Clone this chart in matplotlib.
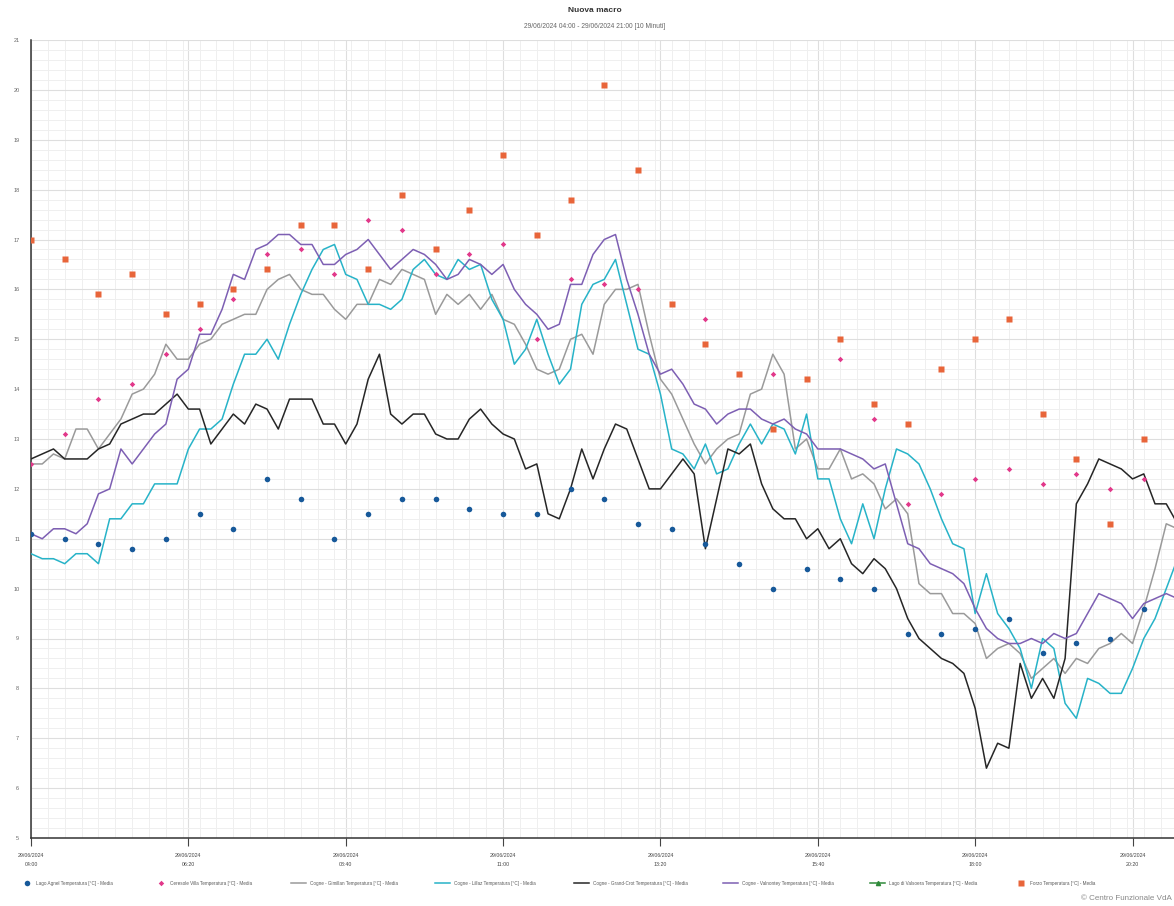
import matplotlib
matplotlib.use('Agg')
import matplotlib.pyplot as plt
import matplotlib.dates as mdates
from matplotlib.lines import Line2D
import numpy as np
import pandas as pd

plt.rcParams['font.family'] = ['Liberation Sans', 'DejaVu Sans']

# ---- 10-minute stations ----
t10 = pd.date_range('2024-06-29 04:00', '2024-06-29 21:00', freq='10min')
grimillan = [12.5,12.5,12.7,12.6,13.2,13.2,12.8,13.1,13.4,13.9,
             14.0,14.3,14.9,14.6,14.6,14.9,15.0,15.3,15.4,15.5,
             15.5,16.0,16.2,16.3,16.0,15.9,15.9,15.6,15.4,15.7,
             15.7,16.2,16.1,16.4,16.3,16.2,15.5,15.9,15.7,15.9,
             15.6,15.9,15.4,15.3,14.9,14.4,14.3,14.4,15.0,15.1,
             14.7,15.7,16.0,16.0,16.1,15.1,14.2,13.9,13.4,12.9,
             12.5,12.8,13.0,13.1,13.9,14.0,14.7,14.3,12.8,13.0,
             12.4,12.4,12.8,12.2,12.3,12.1,11.6,11.8,11.5,10.1,
             9.9,9.9,9.5,9.5,9.3,8.6,8.8,8.9,8.7,8.2,
             8.4,8.6,8.3,8.6,8.5,8.8,8.9,9.1,8.9,9.6,
             10.4,11.3,11.2]
lillaz = [10.7,10.6,10.6,10.5,10.7,10.7,10.5,11.4,11.4,11.7,
          11.7,12.1,12.1,12.1,12.8,13.2,13.2,13.4,14.1,14.7,
          14.7,15.0,14.6,15.3,15.9,16.4,16.8,16.9,16.3,16.2,
          15.7,15.7,15.6,15.8,16.4,16.6,16.3,16.2,16.6,16.4,
          16.5,15.8,15.4,14.5,14.8,15.4,14.7,14.1,14.4,15.7,
          16.1,16.2,16.6,15.7,14.8,14.7,13.9,12.8,12.7,12.4,
          12.9,12.3,12.4,12.9,13.3,12.9,13.3,13.2,12.7,13.5,
          12.2,12.2,11.4,10.9,11.7,11.0,12.0,12.8,12.7,12.5,
          12.0,11.4,10.9,10.8,9.5,10.3,9.5,9.2,8.8,8.0,
          9.0,8.8,7.7,7.4,8.2,8.1,7.9,7.9,8.4,9.0,
          9.4,10.0,10.6]
grand_crot = [12.6,12.7,12.8,12.6,12.6,12.6,12.8,12.9,13.3,13.4,
              13.5,13.5,13.7,13.9,13.6,13.6,12.9,13.2,13.5,13.3,
              13.7,13.6,13.2,13.8,13.8,13.8,13.3,13.3,12.9,13.3,
              14.2,14.7,13.5,13.3,13.5,13.5,13.1,13.0,13.0,13.4,
              13.6,13.3,13.1,13.0,12.4,12.5,11.5,11.4,12.0,12.8,
              12.2,12.8,13.3,13.2,12.6,12.0,12.0,12.3,12.6,12.3,
              10.8,11.8,12.8,12.7,12.9,12.1,11.6,11.4,11.4,11.0,
              11.2,10.8,11.0,10.5,10.3,10.6,10.4,10.0,9.4,9.0,
              8.8,8.6,8.5,8.3,7.6,6.4,6.9,6.8,8.5,7.8,
              8.2,7.8,8.6,11.7,12.1,12.6,12.5,12.4,12.2,12.3,
              11.7,11.7,11.3]
valnontey = [11.1,11.0,11.2,11.2,11.1,11.3,11.9,12.0,12.8,12.5,
             12.8,13.1,13.3,14.2,14.4,15.1,15.1,15.6,16.3,16.2,
             16.8,16.9,17.1,17.1,16.9,16.9,16.5,16.5,16.7,16.8,
             17.0,16.7,16.4,16.6,16.8,16.7,16.5,16.2,16.3,16.6,
             16.5,16.3,16.5,16.0,15.7,15.5,15.2,15.3,16.1,16.1,
             16.7,17.0,17.1,16.2,15.5,14.7,14.3,14.4,14.1,13.7,
             13.6,13.3,13.5,13.6,13.6,13.4,13.3,13.4,13.2,13.1,
             12.8,12.8,12.8,12.7,12.6,12.4,12.5,11.7,10.9,10.8,
             10.5,10.4,10.3,10.1,9.6,9.2,9.0,8.9,8.9,9.0,
             8.9,9.1,9.0,9.1,9.5,9.9,9.8,9.7,9.4,9.7,
             9.8,9.9,9.8]

# ---- 30-minute stations ----
t30 = pd.date_range('2024-06-29 04:00', '2024-06-29 20:30', freq='30min')
lago_agnel = [11.1,11.0,10.9,10.8,11.0,11.5,11.2,12.2,11.8,11.0,
              11.5,11.8,11.8,11.6,11.5,11.5,12.0,11.8,11.3,11.2,
              10.9,10.5,10.0,10.4,10.2,10.0,9.1,9.1,9.2,9.4,
              8.7,8.9,9.0,9.6]
ceresole = [12.5,13.1,13.8,14.1,14.7,15.2,15.8,16.7,16.8,16.3,
            17.4,17.2,16.3,16.7,16.9,15.0,16.2,16.1,16.0,np.nan,
            15.4,np.nan,14.3,np.nan,14.6,13.4,11.7,11.9,12.2,12.4,
            12.1,12.3,12.0,12.2]
forzo = [17.0,16.6,15.9,16.3,15.5,15.7,16.0,16.4,17.3,17.3,
         16.4,17.9,16.8,17.6,18.7,17.1,17.8,20.1,18.4,15.7,
         14.9,14.3,13.2,14.2,15.0,13.7,13.3,14.4,15.0,15.4,
         13.5,12.6,11.3,13.0]

labels = ['Lago Agnel Temperatura [°C] - Media',
          'Ceresole Villa Temperatura [°C] - Media',
          'Cogne - Gimillan Temperatura [°C] - Media',
          'Cogne - Lillaz Temperatura [°C] - Media',
          'Cogne - Grand-Crot Temperatura [°C] - Media',
          'Cogne - Valnontey Temperatura [°C] - Media',
          'Lago di Valsoera Temperatura [°C] - Media',
          'Forzo Temperatura [°C] - Media']

W, H = 1174, 906
fig = plt.figure(figsize=(W/100, H/100), dpi=100)
ax = fig.add_axes([31/W, 1-838/H, 1146.5/W, 798/H])

h1, = ax.plot(t30, lago_agnel, 'o', color='#17599a', ms=4, mec='none', zorder=5)
h2, = ax.plot(t30, ceresole, 'D', color='#e2388a', ms=2.8, mec='none', zorder=5)
h3, = ax.plot(t10, grimillan, color='#9a9a9a', lw=1.1, zorder=3)
h4, = ax.plot(t10, lillaz, color='#27b3c8', lw=1.1, zorder=3)
h5, = ax.plot(t10, grand_crot, color='#262626', lw=1.1, zorder=3)
h6, = ax.plot(t10, valnontey, color='#7d5fb3', lw=1.1, zorder=3)
h7, = ax.plot([], [], color='#2f8a3a', lw=1.1, marker='^', ms=3)
h8, = ax.plot(t30, forzo, 's', color='#e8653a', ms=4.6, mec='none', zorder=5)

ax.set_ylim(5, 21)
ax.set_xlim(t10[0], t10[-1])
ax.set_yticks(np.arange(5, 22, 1))
ax.set_yticks(np.arange(5, 21, 0.2), minor=True)
ax.tick_params(axis='y', which='both', length=0, labelsize=4, labelcolor='#666666', pad=10)
for lbl in ax.get_yticklabels():
    lbl.set_horizontalalignment('center')

xt = t10[::14]
ax.set_xticks(xt)
ax.set_xticklabels([t.strftime('%d/%m/%Y\n%H:%M') for t in xt], linespacing=2.0)
ax.xaxis.set_minor_locator(mdates.MinuteLocator(byminute=[0, 15, 30, 45]))
ax.tick_params(axis='x', which='major', length=6, width=0.8, color='#444444',
               labelsize=3.8, labelcolor='#444444', pad=5)
ax.tick_params(axis='x', which='minor', length=0)

ax.grid(which='major', color='#dedede', lw=0.8, zorder=0)
ax.grid(which='minor', color='#efefef', lw=0.7, zorder=0)
ax.set_axisbelow(True)
for s in ['top', 'right']:
    ax.spines[s].set_visible(False)
ax.spines['left'].set_color('#333333')
ax.spines['bottom'].set_color('#333333')
ax.spines['left'].set_linewidth(1.1)
ax.spines['bottom'].set_linewidth(1.1)

fig.text(595/W, 1-11/H, 'Nuova macro', ha='center', va='center',
         fontsize=6, fontweight='bold', color='#333333')
fig.text(595/W, 1-26/H, '29/06/2024 04:00 - 29/06/2024 21:00 [10 Minuti]',
         ha='center', va='center', fontsize=4.8, color='#666666')

# legend, one entry per slot
handles = [h1, h2, h3, h4, h5, h6, h7, h8]
slots = [22, 156, 291, 435, 574, 723, 870, 1016]
is_line = [False, False, True, True, True, True, True, False]
for h, lab, x0, ln in zip(handles, labels, slots, is_line):
    fig.legend([h], [lab], loc='center left', bbox_to_anchor=(x0/W, 1-883/H),
               frameon=False, fontsize=3.3, handlelength=3.3 if ln else 2.0,
               handletextpad=0.9 if ln else 1.1, borderpad=0, borderaxespad=0,
               labelcolor='#5a5a5a')

fig.text(1172/W, 1-898/H, '© Centro Funzionale VdA', ha='right', va='center',
         fontsize=5.8, color='#888888')

fig.savefig('out.png', dpi=100)
